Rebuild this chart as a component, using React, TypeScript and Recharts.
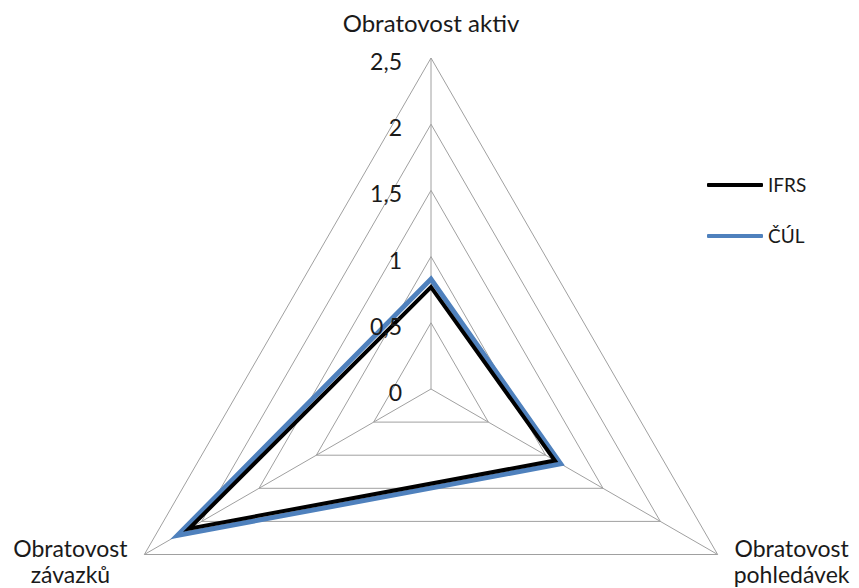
import { RadarChart, Radar, PolarGrid, PolarAngleAxis, PolarRadiusAxis, Legend } from 'recharts'

const categories = ['Obratovost aktiv', 'Obratovost pohledávek', 'Obratovost závazků']
const ifrs = [0.77, 1.08, 2.11]
const cul = [0.83, 1.13, 2.21]
const radiusTicks = [0, 0.5, 1, 1.5, 2, 2.5]

const IFRS_COLOR = '#000000'
const CUL_COLOR = '#4F81BD'
const GRID_COLOR = '#a0a0a0'
const FONT = 'Lato, "Open Sans", sans-serif'

const data = categories.map((name, i) => ({ name, ifrs: ifrs[i], cul: cul[i] }))

function AngleTick(props: any) {
  const { x, y, payload, index } = props
  const words = String(payload.value).split(' ')
  if (index === 0) {
    return (
      <text x={x} y={y - 18} textAnchor="middle" fill="#1a1a1a" fontSize={24} fontFamily={FONT}>
        {payload.value}
      </text>
    )
  }
  const dx = index === 1 ? 67 : -67
  return (
    <text x={x + dx} y={y - 2} textAnchor="middle" fill="#1a1a1a" fontSize={23} fontFamily={FONT}>
      <tspan x={x + dx} dy={0}>{words[0]}</tspan>
      <tspan x={x + dx} dy={26}>{words[1]}</tspan>
    </text>
  )
}

function RadiusTick(props: any) {
  const { x, y, payload } = props
  return (
    <text x={x - 29} y={y + 3} textAnchor="end" dominantBaseline="central" fill="#1a1a1a" fontSize={23} fontFamily={FONT}>
      {String(payload.value).replace('.', ',')}
    </text>
  )
}

function LegendBox() {
  const items = [
    { label: 'IFRS', color: IFRS_COLOR },
    { label: 'ČÚL', color: CUL_COLOR },
  ]
  return (
    <div style={{ fontFamily: FONT, fontSize: 19, color: '#1a1a1a' }}>
      {items.map((it) => (
        <div key={it.label} style={{ display: 'flex', alignItems: 'center', height: 51 }}>
          <span style={{ width: 56, height: 4, background: it.color, borderRadius: 1, marginRight: 5 }} />
          <span>{it.label}</span>
        </div>
      ))}
    </div>
  )
}

export default function App() {
  return (
    <RadarChart width={851} height={580} data={data} cx={423} cy={381} outerRadius={331} startAngle={90} endAngle={-270}>
      <PolarGrid gridType="polygon" stroke={GRID_COLOR} strokeWidth={1} />
      <PolarAngleAxis dataKey="name" tick={<AngleTick />} tickLine={false} axisLine={false} />
      <PolarRadiusAxis
        angle={90}
        type="number"
        domain={[0, 2.5]}
        allowDataOverflow
        allowDecimals
        ticks={radiusTicks}
        tickCount={6}
        tick={<RadiusTick />}
        axisLine={false}
        tickLine={false}
      />
      <Radar name="ČÚL" dataKey="cul" stroke={CUL_COLOR} strokeWidth={5} fill="none" fillOpacity={0} isAnimationActive={false} />
      <Radar name="IFRS" dataKey="ifrs" stroke={IFRS_COLOR} strokeWidth={4} fill="none" fillOpacity={0} isAnimationActive={false} />
      <Legend
        content={<LegendBox />}
        wrapperStyle={{ position: 'absolute', left: 699, top: 151, width: 120 }}
      />
    </RadarChart>
  )
}
